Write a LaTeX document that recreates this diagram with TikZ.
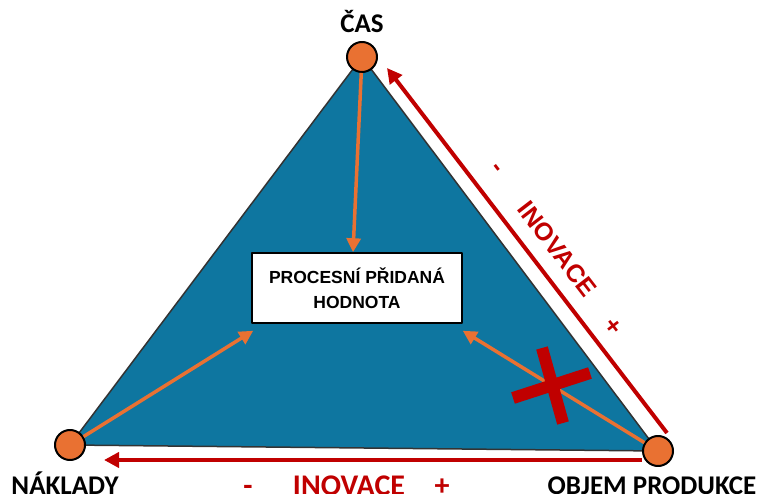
\documentclass[tikz,border=0pt]{standalone}
\usepackage{fontspec}
\setmainfont{Carlito}
\newfontfamily\boxfont{Liberation Sans}
\usetikzlibrary{positioning,arrows.meta}
\definecolor{triblue}{HTML}{0E76A0}
\definecolor{dotorange}{HTML}{E97132}
\definecolor{innored}{HTML}{C00000}

\begin{document}
\begin{tikzpicture}[x=1pt,y=-1pt,line join=round]
    \tikzstyle{vertex}=[circle,fill=dotorange,draw=black,line width=2pt,minimum size=30pt,inner sep=0pt]
    \tikzstyle{corner}=[font=\bfseries\fontsize{27}{27}\selectfont,inner sep=0pt]
    \tikzstyle{flow}=[draw=dotorange,line width=3.5pt,-{Triangle[length=14pt,width=14pt]}]
    \tikzstyle{innov}=[draw=innored,line width=4pt,-{Triangle[length=15pt,width=15pt]}]
    \tikzstyle{side text}=[text=innored,font=\boxfont\bfseries\fontsize{25}{25}\selectfont,rotate=-52.5,inner sep=0pt]
    \tikzstyle{base text}=[text=innored,font=\bfseries\fontsize{30}{30}\selectfont,anchor=base,inner sep=0pt]
    \tikzstyle{cross}=[draw=innored,line width=12pt]

    \useasboundingbox (0,0) rectangle (763,494);

    % Corners of the triangle
    \foreach \name / \x / \y in {cas/362/57, naklady/70/445, objem/658/451}
        \coordinate (\name) at (\x,\y);

    \filldraw[fill=triblue,draw=black!80,line width=1.5pt] (cas) -- (naklady) -- (objem) -- cycle;

    % Value box in the middle
    \node[draw=black,line width=1.5pt,fill=white,minimum width=210pt,minimum height=70pt,
          align=center,font=\boxfont\bfseries\fontsize{17.5}{25}\selectfont] (hodnota) at (357,288)
          {PROCESNÍ PŘIDANÁ\\HODNOTA};

    % Draw the corner dots
    \foreach \name in {cas,naklady,objem}
        \node[vertex] (\name-c) at (\name) {};

    % Connect every corner with the box
    \draw[flow] (cas-c) -- ([xshift=-4pt]hodnota.north);
    \draw[flow] (naklady-c) -- ([shift={(2pt,-7pt)}]hodnota.south west);
    \draw[flow] (objem-c) -- ([yshift=-7pt]hodnota.south east);

    % This one is crossed out
    \draw[cross] (542,348) -- (563,423);
    \draw[cross] (513,398) -- (590,373);

    % Innovation arrows along two sides
    \coordinate (side-start) at (667,433);
    \coordinate (side-end) at (387,68);
    \coordinate (base-start) at (642,460);
    \coordinate (base-end) at (104,460);
    \draw[innov] (side-start) -- (side-end);
    \draw[innov] (base-start) -- (base-end);

    \node[side text] (side-minus) at (495,169) {-};
    \node[side text] (side-inov) at (557,249) {INOVACE};
    \node[side text] (side-plus) at (613,327) {+};

    \node[base text] (base-minus) at (248,495) {-};
    \node[base text] (base-inov) at (349,495) {INOVACE};
    \node[base text] (base-plus) at (442,495) {+};

    % Annotate the corners
    \node[corner,above=8pt of cas-c] (cas-l) {ČAS};
    \node[corner,below=11pt of naklady-c,xshift=-5pt] (naklady-l) {NÁKLADY};
    \node[corner,below=10pt of objem-c,xshift=-6pt] (objem-l) {OBJEM PRODUKCE};

\end{tikzpicture}
\end{document}
